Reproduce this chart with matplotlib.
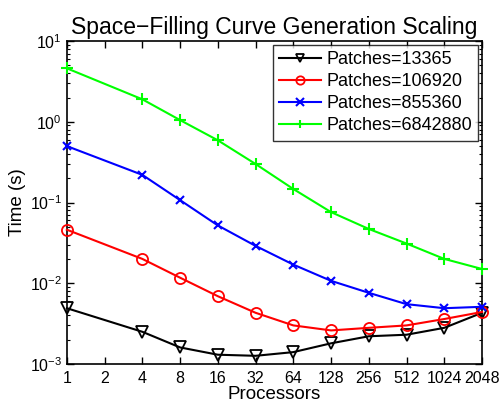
import matplotlib
matplotlib.use("Agg")
import matplotlib.pyplot as plt
from matplotlib.ticker import FixedLocator, FixedFormatter, LogLocator, NullFormatter

plt.rcParams['font.family'] = ['Liberation Sans', 'DejaVu Sans']

procs = [1, 4, 8, 16, 32, 64, 128, 256, 512, 1024, 2048]
tick_procs = [1, 2, 4, 8, 16, 32, 64, 128, 256, 512, 1024, 2048]
t_13365 = [0.0049, 0.0025, 0.0016, 0.0013, 0.00126, 0.0014, 0.0018, 0.0022, 0.0023, 0.0028, 0.0043]
t_106920 = [0.046, 0.020, 0.0117, 0.0069, 0.0043, 0.0030, 0.0026, 0.0028, 0.0030, 0.0036, 0.0044]
t_855360 = [0.50, 0.22, 0.107, 0.052, 0.029, 0.017, 0.0107, 0.0076, 0.0055, 0.0049, 0.0051]
t_6842880 = [4.6, 1.9, 1.05, 0.59, 0.30, 0.147, 0.076, 0.047, 0.031, 0.020, 0.015]
labels = ['Patches=13365', 'Patches=106920', 'Patches=855360', 'Patches=6842880']

fig = plt.figure(figsize=(4.99, 4.03), dpi=100)
ax = fig.add_axes([0.134, 0.097, 0.832, 0.801])

kw = dict(lw=1.5, clip_on=False, zorder=3)
ax.plot(procs, t_13365, color='black', marker='v', mfc='none', ms=8, mew=1.3, label=labels[0], **kw)
ax.plot(procs, t_106920, color='red', marker='o', mfc='none', ms=8, mew=1.3, label=labels[1], **kw)
ax.plot(procs, t_855360, color='blue', marker='x', ms=6, mew=1.5, label=labels[2], **kw)
ax.plot(procs, t_6842880, color='#00ff00', marker='+', ms=9, mew=1.5, label=labels[3], **kw)

ax.set_xscale('log', base=2)
ax.set_yscale('log')
ax.set_xlim(1, 2048)
ax.set_ylim(1e-3, 1e1)
ax.xaxis.set_major_locator(FixedLocator(tick_procs))
ax.xaxis.set_major_formatter(FixedFormatter([str(p) for p in tick_procs]))
ax.xaxis.set_minor_locator(FixedLocator([]))
ax.yaxis.set_major_locator(LogLocator(base=10, numticks=10))
ax.yaxis.set_minor_locator(LogLocator(base=10, subs=range(2, 10), numticks=20))
ax.yaxis.set_minor_formatter(NullFormatter())

ax.tick_params(which='both', direction='in', top=True, right=True, labelsize=11.5)
ax.tick_params(axis='x', pad=5)
ax.tick_params(which='major', length=5, width=1)
ax.tick_params(which='minor', length=2.5, width=0.8)
for s in ax.spines.values():
    s.set_linewidth(1.2)

ax.set_xlabel('Processors', fontsize=13.5, labelpad=0)
ax.set_ylabel('Time (s)', fontsize=13.5, labelpad=3)
ax.set_title('Space\u2212Filling Curve Generation Scaling', fontsize=16.5, pad=5)

leg = ax.legend(loc='upper right', fontsize=13, frameon=True, fancybox=False,
                edgecolor='black', handlelength=2.3, handletextpad=0.3,
                borderpad=0.35, labelspacing=0.28, borderaxespad=0.2)
leg.get_frame().set_linewidth(1.0)
for h in leg.legend_handles:
    h.set_markersize(6)

fig.savefig('out.png', dpi=100)
